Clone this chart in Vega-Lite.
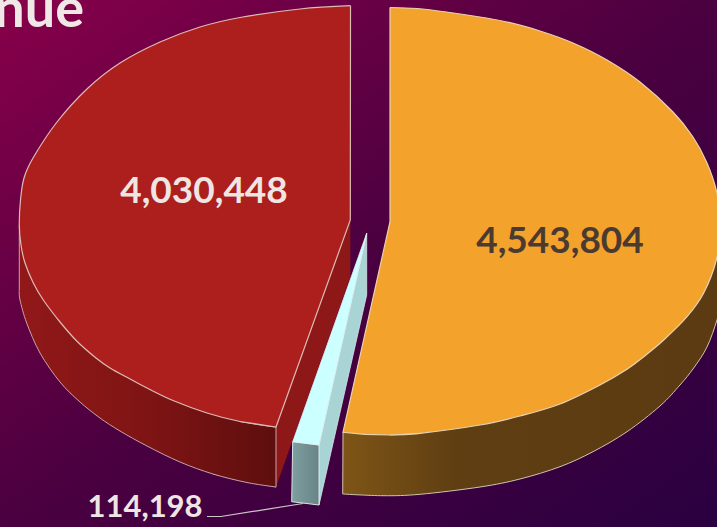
{
  "$schema": "https://vega.github.io/schema/vega-lite/v6.json",
  "width": 717,
  "height": 527,
  "padding": 0,
  "autosize": {"type": "none"},
  "background": "#3a0040",
  "config": {"view": {"stroke": null}},
  "datasets": {
    "labels": [
      {"label": "Revenue", "role": "title", "x": 84, "y": 27},
      {"label": "4,030,448", "role": "large", "value": 4030448, "x": 204, "y": 203},
      {"label": "4,543,804", "role": "dark", "value": 4543804, "x": 560, "y": 253},
      {"label": "114,198", "role": "small", "value": 114198, "x": 145, "y": 517}
    ],
    "outlines": [
      {"part": "red_cut", "x": 276, "y": 427}, {"part": "red_cut", "x": 350.3, "y": 220}, {"part": "red_cut", "x": 350.3, "y": 277}, {"part": "red_cut", "x": 276, "y": 487},

      {"part": "red_wall_body", "x": 19.3, "y": 290}, {"part": "red_wall_body", "x": 19.3, "y": 225}, {"part": "red_wall_body", "x": 276, "y": 427}, {"part": "red_wall_body", "x": 276, "y": 487}, {"part": "red_wall_body", "x": 213, "y": 474},

      {"part": "red_wall_rim", "x": 19.3, "y": 290}, {"part": "red_wall_rim", "x": 20, "y": 300}, {"part": "red_wall_rim", "x": 26.7, "y": 323}, {"part": "red_wall_rim", "x": 40, "y": 353}, {"part": "red_wall_rim", "x": 60, "y": 382}, {"part": "red_wall_rim", "x": 80, "y": 402}, {"part": "red_wall_rim", "x": 100, "y": 418}, {"part": "red_wall_rim", "x": 120, "y": 431}, {"part": "red_wall_rim", "x": 147, "y": 446}, {"part": "red_wall_rim", "x": 180, "y": 462}, {"part": "red_wall_rim", "x": 213, "y": 474}, {"part": "red_wall_rim", "x": 247, "y": 482.5}, {"part": "red_wall_rim", "x": 276, "y": 487},

      {"part": "red_top_rim", "x": 350.5, "y": 5.7}, {"part": "red_top_rim", "x": 300, "y": 9}, {"part": "red_top_rim", "x": 240, "y": 17.5}, {"part": "red_top_rim", "x": 200, "y": 27}, {"part": "red_top_rim", "x": 160, "y": 42}, {"part": "red_top_rim", "x": 120, "y": 63}, {"part": "red_top_rim", "x": 88, "y": 88}, {"part": "red_top_rim", "x": 57, "y": 122}, {"part": "red_top_rim", "x": 33, "y": 158}, {"part": "red_top_rim", "x": 24, "y": 178}, {"part": "red_top_rim", "x": 20.5, "y": 200}, {"part": "red_top_rim", "x": 19.3, "y": 225}, {"part": "red_top_rim", "x": 21, "y": 245}, {"part": "red_top_rim", "x": 25, "y": 263}, {"part": "red_top_rim", "x": 33.3, "y": 283}, {"part": "red_top_rim", "x": 43.3, "y": 300}, {"part": "red_top_rim", "x": 60, "y": 322}, {"part": "red_top_rim", "x": 76.7, "y": 341}, {"part": "red_top_rim", "x": 96, "y": 358}, {"part": "red_top_rim", "x": 110, "y": 368}, {"part": "red_top_rim", "x": 130, "y": 379}, {"part": "red_top_rim", "x": 147, "y": 388}, {"part": "red_top_rim", "x": 173, "y": 400.5}, {"part": "red_top_rim", "x": 207, "y": 413}, {"part": "red_top_rim", "x": 240, "y": 421.5}, {"part": "red_top_rim", "x": 276, "y": 427},

      {"part": "red_top_wedge", "x": 350.5, "y": 5.7}, {"part": "red_top_wedge", "x": 350.3, "y": 220}, {"part": "red_top_wedge", "x": 276, "y": 427}, {"part": "red_top_wedge", "x": 240, "y": 421.5},

      {"part": "sliver_side", "x": 319, "y": 445}, {"part": "sliver_side", "x": 366.7, "y": 233.3}, {"part": "sliver_side", "x": 366.7, "y": 295}, {"part": "sliver_side", "x": 319, "y": 505}, {"part": "sliver_side", "x": 319, "y": 445},

      {"part": "sliver_front", "x": 292.7, "y": 441.7}, {"part": "sliver_front", "x": 319, "y": 445}, {"part": "sliver_front", "x": 319, "y": 505}, {"part": "sliver_front", "x": 291.7, "y": 501.7}, {"part": "sliver_front", "x": 292.7, "y": 441.7},

      {"part": "sliver_top", "x": 366.7, "y": 233.3}, {"part": "sliver_top", "x": 292.7, "y": 441.7}, {"part": "sliver_top", "x": 319, "y": 445}, {"part": "sliver_top", "x": 366.7, "y": 233.3},

      {"part": "orange_wall_body", "x": 342.7, "y": 494}, {"part": "orange_wall_body", "x": 343, "y": 432.3}, {"part": "orange_wall_body", "x": 722, "y": 240}, {"part": "orange_wall_body", "x": 722, "y": 300}, {"part": "orange_wall_body", "x": 560, "y": 466.7},

      {"part": "orange_wall_rim", "x": 342.7, "y": 494}, {"part": "orange_wall_rim", "x": 383, "y": 495.7}, {"part": "orange_wall_rim", "x": 420, "y": 494.3}, {"part": "orange_wall_rim", "x": 480, "y": 487}, {"part": "orange_wall_rim", "x": 520, "y": 479}, {"part": "orange_wall_rim", "x": 560, "y": 466.7}, {"part": "orange_wall_rim", "x": 593, "y": 451.7}, {"part": "orange_wall_rim", "x": 627, "y": 431.7}, {"part": "orange_wall_rim", "x": 660, "y": 406}, {"part": "orange_wall_rim", "x": 680, "y": 385}, {"part": "orange_wall_rim", "x": 693.7, "y": 368}, {"part": "orange_wall_rim", "x": 707, "y": 347}, {"part": "orange_wall_rim", "x": 717, "y": 320}, {"part": "orange_wall_rim", "x": 722, "y": 300},

      {"part": "orange_top_rim", "x": 390, "y": 7.5}, {"part": "orange_top_rim", "x": 417, "y": 8.5}, {"part": "orange_top_rim", "x": 450, "y": 12.5}, {"part": "orange_top_rim", "x": 483, "y": 17.5}, {"part": "orange_top_rim", "x": 507, "y": 22}, {"part": "orange_top_rim", "x": 540, "y": 31}, {"part": "orange_top_rim", "x": 573, "y": 43}, {"part": "orange_top_rim", "x": 607, "y": 60}, {"part": "orange_top_rim", "x": 640, "y": 82}, {"part": "orange_top_rim", "x": 673, "y": 112}, {"part": "orange_top_rim", "x": 693, "y": 137}, {"part": "orange_top_rim", "x": 707, "y": 163}, {"part": "orange_top_rim", "x": 717, "y": 193}, {"part": "orange_top_rim", "x": 721, "y": 225}, {"part": "orange_top_rim", "x": 716.3, "y": 260}, {"part": "orange_top_rim", "x": 703.7, "y": 293}, {"part": "orange_top_rim", "x": 687, "y": 316.7}, {"part": "orange_top_rim", "x": 663.7, "y": 340}, {"part": "orange_top_rim", "x": 643.7, "y": 356.7}, {"part": "orange_top_rim", "x": 627, "y": 369.3}, {"part": "orange_top_rim", "x": 600, "y": 385}, {"part": "orange_top_rim", "x": 560, "y": 404}, {"part": "orange_top_rim", "x": 520, "y": 416}, {"part": "orange_top_rim", "x": 480, "y": 425}, {"part": "orange_top_rim", "x": 420, "y": 433.3}, {"part": "orange_top_rim", "x": 390, "y": 435},

      {"part": "orange_top_wedge", "x": 390, "y": 7.5}, {"part": "orange_top_wedge", "x": 390, "y": 221.7}, {"part": "orange_top_wedge", "x": 343, "y": 432.3}, {"part": "orange_top_wedge", "x": 365, "y": 434.3}, {"part": "orange_top_wedge", "x": 390, "y": 435}, {"part": "orange_top_wedge", "x": 420, "y": 433.3},

      {"part": "leader", "x": 207, "y": 516.5}, {"part": "leader", "x": 221, "y": 516.5}, {"part": "leader", "x": 303, "y": 503.5}
    ]
  },
  "data": {"name": "outlines"},
  "encoding": {
    "x": {"field": "x", "type": "quantitative", "axis": null, "scale": {"domain": [0, 717], "nice": false, "zero": false}},
    "y": {"field": "y", "type": "quantitative", "axis": null, "scale": {"domain": [527, 0], "nice": false, "zero": false}},
    "order": {"value": null}
  },
  "layer": [
    {
      "mark": {"type": "rect", "fill": {"gradient": "linear", "x1": 0, "y1": 0, "x2": 1, "y2": 1, "stops": [{"offset": 0, "color": "#88004a"}, {"offset": 0.5, "color": "#4b0040"}, {"offset": 1, "color": "#2a0040"}]}},
      "encoding": {
        "x": {"datum": 0, "type": "quantitative"},
        "x2": {"datum": 717},
        "y": {"datum": 0, "type": "quantitative"},
        "y2": {"datum": 527},
        "order": null
      }
    },
    {
      "transform": [{"filter": "datum.part === 'red_cut'"}],
      "mark": {"type": "line", "strokeWidth": 0, "fill": "#8e1717"}
    },
    {
      "transform": [{"filter": "datum.part === 'red_wall_body'"}],
      "mark": {"type": "line", "strokeWidth": 1, "stroke": "#c8a4a4", "fill": {"gradient": "linear", "x1": 0, "y1": 0, "x2": 1, "y2": 0, "stops": [{"offset": 0, "color": "#911818"}, {"offset": 0.5, "color": "#7f1414"}, {"offset": 1, "color": "#5e0e0e"}]}}
    },
    {
      "transform": [{"filter": "datum.part === 'red_wall_rim'"}],
      "mark": {"type": "line", "interpolate": "cardinal", "strokeWidth": 1, "stroke": "#c8a4a4", "fill": {"gradient": "linear", "x1": 0, "y1": 0, "x2": 1, "y2": 0, "stops": [{"offset": 0, "color": "#911818"}, {"offset": 0.5, "color": "#7f1414"}, {"offset": 1, "color": "#5e0e0e"}]}}
    },
    {
      "transform": [{"filter": "datum.part === 'red_top_rim'"}],
      "mark": {"type": "line", "interpolate": "cardinal", "strokeWidth": 1.2, "stroke": "#dcbcb6", "fill": "#ac1f1d"}
    },
    {
      "transform": [{"filter": "datum.part === 'red_top_wedge'"}],
      "mark": {"type": "line", "strokeWidth": 1.2, "stroke": "#dcbcb6", "fill": "#ac1f1d"}
    },
    {
      "transform": [{"filter": "datum.part === 'sliver_side'"}],
      "mark": {"type": "line", "strokeWidth": 0.8, "stroke": "#d8e4e4", "fill": "#a8d4d6"}
    },
    {
      "transform": [{"filter": "datum.part === 'sliver_front'"}],
      "mark": {"type": "line", "strokeWidth": 1, "stroke": "#d8e4e4", "fill": {"gradient": "linear", "x1": 0, "y1": 0, "x2": 1, "y2": 0, "stops": [{"offset": 0, "color": "#7f9fa1"}, {"offset": 1, "color": "#688486"}]}}
    },
    {
      "transform": [{"filter": "datum.part === 'sliver_top'"}],
      "mark": {"type": "line", "strokeWidth": 0.8, "stroke": "#e4f4f4", "fill": "#ccffff"}
    },
    {
      "transform": [{"filter": "datum.part === 'orange_wall_body'"}],
      "mark": {"type": "line", "strokeWidth": 1, "stroke": "#cfc4ae", "fill": {"gradient": "linear", "x1": 0, "y1": 0, "x2": 1, "y2": 0, "stops": [{"offset": 0, "color": "#7e5517"}, {"offset": 0.3, "color": "#5f3e12"}, {"offset": 1, "color": "#5c3b12"}]}}
    },
    {
      "transform": [{"filter": "datum.part === 'orange_wall_rim'"}],
      "mark": {"type": "line", "interpolate": "cardinal", "strokeWidth": 1, "stroke": "#cfc4ae", "fill": {"gradient": "linear", "x1": 0, "y1": 0, "x2": 1, "y2": 0, "stops": [{"offset": 0, "color": "#7e5517"}, {"offset": 0.3, "color": "#5f3e12"}, {"offset": 1, "color": "#5c3b12"}]}}
    },
    {
      "transform": [{"filter": "datum.part === 'orange_top_rim'"}],
      "mark": {"type": "line", "interpolate": "cardinal", "strokeWidth": 1.2, "stroke": "#e8d2b2", "fill": "#f3a22c"}
    },
    {
      "transform": [{"filter": "datum.part === 'orange_top_wedge'"}],
      "mark": {"type": "line", "strokeWidth": 1.2, "stroke": "#e8d2b2", "fill": "#f3a22c"}
    },
    {
      "transform": [{"filter": "datum.part === 'leader'"}],
      "mark": {"type": "line", "strokeWidth": 1.2, "stroke": "#cfc6c8"}
    },
    {
      "data": {"name": "labels"},
      "transform": [{"filter": "datum.role === 'title'"}],
      "mark": {"type": "text", "font": "Lato", "fontWeight": "bold", "fontSize": 54, "align": "right", "baseline": "alphabetic", "color": "#efe8e6"},
      "encoding": {"text": {"field": "label"}, "order": null}
    },
    {
      "data": {"name": "labels"},
      "transform": [{"filter": "datum.role === 'large'"}],
      "mark": {"type": "text", "font": "Lato", "fontWeight": "bold", "fontSize": 37, "align": "center", "baseline": "alphabetic", "color": "#efe6e4"},
      "encoding": {"text": {"field": "label"}, "order": null}
    },
    {
      "data": {"name": "labels"},
      "transform": [{"filter": "datum.role === 'dark'"}],
      "mark": {"type": "text", "font": "Lato", "fontWeight": "bold", "fontSize": 37, "align": "center", "baseline": "alphabetic", "color": "#4a3a30"},
      "encoding": {"text": {"field": "label"}, "order": null}
    },
    {
      "data": {"name": "labels"},
      "transform": [{"filter": "datum.role === 'small'"}],
      "mark": {"type": "text", "font": "Lato", "fontWeight": "bold", "fontSize": 31, "align": "center", "baseline": "alphabetic", "color": "#efe6e4"},
      "encoding": {"text": {"field": "label"}, "order": null}
    }
  ]
}
